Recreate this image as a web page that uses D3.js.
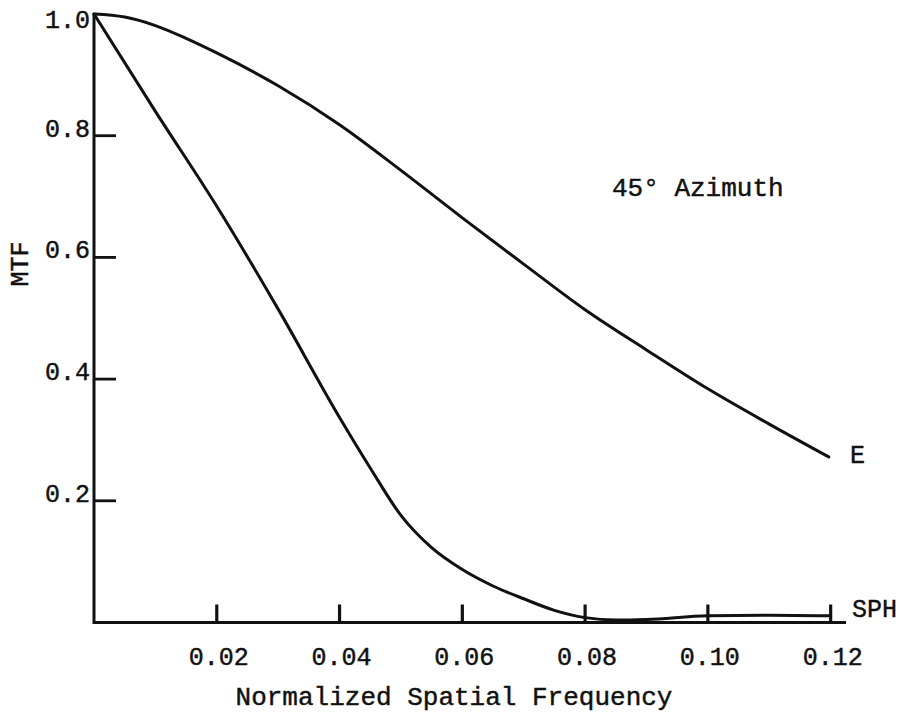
<!DOCTYPE html>
<html>
<head>
<meta charset="utf-8">
<script src="https://cdn.jsdelivr.net/npm/d3@7"></script>
<style>
  html, body { margin: 0; padding: 0; background: #fff; }
  svg { display: block; }
  text { font-family: "Liberation Mono", "DejaVu Sans Mono", monospace; fill: #111; stroke: #111; stroke-width: 0.45px; }
</style>
</head>
<body>
<svg id="chart" width="902" height="719"></svg>
<script>
// ---- data ----
const xTicks = [0.02, 0.04, 0.06, 0.08, 0.10, 0.12];
const xTickLabels = ["0.02", "0.04", "0.06", "0.08", "0.10", "0.12"];
const yTicks = [0.2, 0.4, 0.6, 0.8, 1.0];
const yTickLabels = ["0.2", "0.4", "0.6", "0.8", "1.0"];

const freqE = [0, 0.005, 0.01, 0.015, 0.02, 0.03, 0.04, 0.05, 0.06, 0.07, 0.08, 0.09, 0.10, 0.11, 0.1197];
const mtfE  = [1.0, 0.995, 0.981, 0.960, 0.936, 0.882, 0.818, 0.743, 0.665, 0.589, 0.514, 0.448, 0.384, 0.326, 0.272];

const freqSPH = [0, 0.01, 0.02, 0.03, 0.04, 0.045, 0.05, 0.055, 0.06, 0.065, 0.07, 0.075, 0.08, 0.085, 0.09, 0.10, 0.11, 0.1197];
const mtfSPH  = [1.0, 0.84, 0.684, 0.515, 0.337, 0.254, 0.176, 0.123, 0.087, 0.060, 0.039, 0.020, 0.008, 0.004, 0.005, 0.011, 0.012, 0.011];

const seriesNames = ["E", "SPH"];

// ---- layout ----
const svg = d3.select("#chart");
const x = d3.scaleLinear().domain([0, 0.1225]).range([94, 846]);
const y = d3.scaleLinear().domain([0, 1.0]).range([622.5, 14]);

const ink = "#111";

// axes lines
svg.append("line").attr("x1", x(0)).attr("x2", x(0.1225)).attr("y1", y(0)).attr("y2", y(0))
  .attr("stroke", ink).attr("stroke-width", 3);
svg.append("line").attr("x1", x(0)).attr("x2", x(0)).attr("y1", y(0) + 1.5).attr("y2", y(1.0))
  .attr("stroke", ink).attr("stroke-width", 3);

// x ticks (upward)
const xt = svg.append("g");
xt.selectAll("line").data(xTicks).join("line")
  .attr("x1", d => x(d)).attr("x2", d => x(d))
  .attr("y1", y(0)).attr("y2", y(0) - 18)
  .attr("stroke", ink).attr("stroke-width", 3.2);
xt.selectAll("text").data(xTicks).join("text")
  .attr("x", d => x(d) + 2).attr("y", 665)
  .attr("text-anchor", "middle").attr("font-size", 25)
  .text((d, i) => xTickLabels[i]);

// y ticks (to the right)
const yt = svg.append("g");
yt.selectAll("line").data(yTicks.filter(d => d < 1)).join("line")
  .attr("x1", x(0)).attr("x2", x(0) + 22)
  .attr("y1", d => y(d)).attr("y2", d => y(d))
  .attr("stroke", ink).attr("stroke-width", 2.8);
yt.selectAll("text").data(yTicks).join("text")
  .attr("x", 90)
  .attr("y", d => Math.max(y(d) + 1, y(1.0) + 14))
  .attr("text-anchor", "end").attr("font-size", 25)
  .text((d, i) => yTickLabels[i]);

// axis titles
svg.append("text").attr("x", 454).attr("y", 705)
  .attr("text-anchor", "middle").attr("font-size", 26)
  .text("Normalized Spatial Frequency");
svg.append("text")
  .attr("transform", "translate(28,264) rotate(-90)")
  .attr("text-anchor", "middle").attr("font-size", 25)
  .text("MTF");

// curves
const line = d3.line().curve(d3.curveMonotoneX).x(d => x(d[0])).y(d => y(d[1]));
const dataE = freqE.map((f, i) => [f, mtfE[i]]);
const dataS = freqSPH.map((f, i) => [f, mtfSPH[i]]);
[dataE, dataS].forEach(dat => {
  svg.append("path").datum(dat).attr("d", line)
    .attr("fill", "none").attr("stroke", ink).attr("stroke-width", 3)
    .attr("stroke-linejoin", "round").attr("stroke-linecap", "round");
});

// curve labels
svg.append("text").attr("x", 850).attr("y", 463).attr("font-size", 25).text(seriesNames[0]);
svg.append("text").attr("x", 852).attr("y", 617).attr("font-size", 25).text(seriesNames[1]);

// annotation
svg.append("text").attr("x", 612).attr("y", 196).attr("font-size", 26).text("45° Azimuth");
</script>
</body>
</html>
